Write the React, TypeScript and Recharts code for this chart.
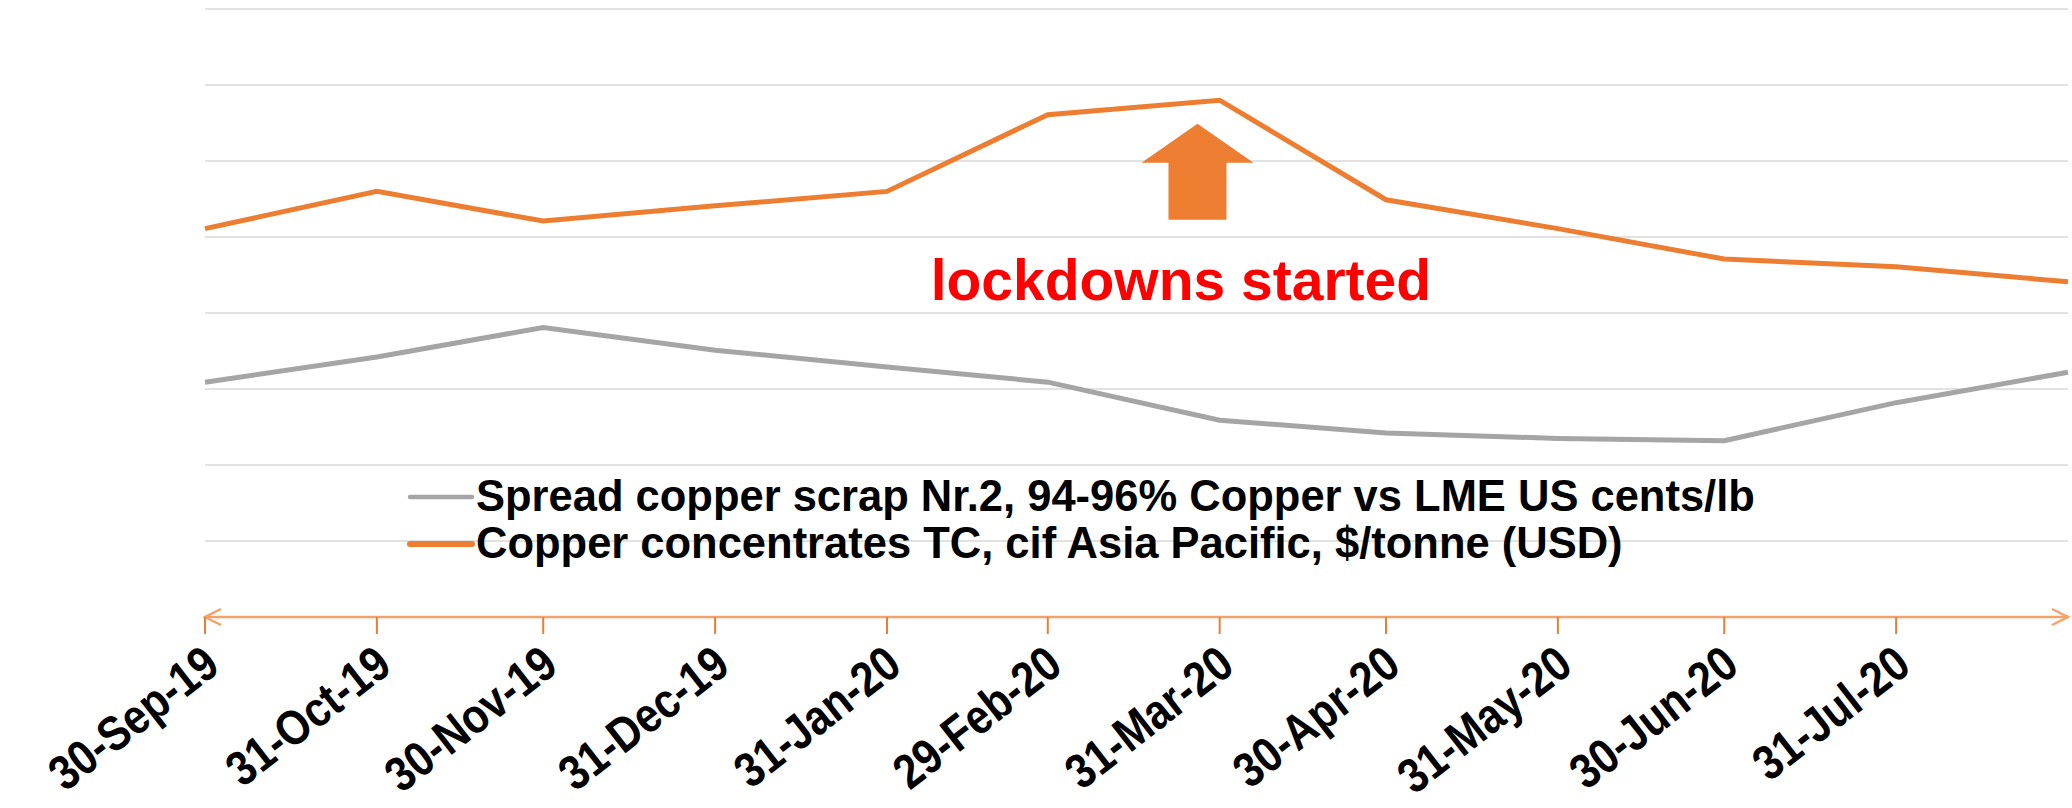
import React from 'react';
import { LineChart, Line, XAxis, YAxis, CartesianGrid, Legend, ReferenceDot } from 'recharts';

const dates = ['2019-09-30', '2019-10-31', '2019-11-30', '2019-12-31', '2020-01-31', '2020-02-29', '2020-03-31', '2020-04-30', '2020-05-31', '2020-06-30', '2020-07-31', '2020-08-31'];
const dateLabels = ['30-Sep-19', '31-Oct-19', '30-Nov-19', '31-Dec-19', '31-Jan-20', '29-Feb-20', '31-Mar-20', '30-Apr-20', '31-May-20', '30-Jun-20', '31-Jul-20', '31-Aug-20'];
const scrapSpread = [30.9, 34.2, 38.1, 35.1, 32.9, 30.9, 25.9, 24.2, 23.5, 23.2, 28.2, 32.2];
const concentratesTC = [51.1, 56.0, 52.1, 54.1, 56.0, 66.1, 68.0, 54.9, 51.1, 47.1, 46.1, 44.1];
const labeledTickCount = 11;
const yTicks = [0, 10, 20, 30, 40, 50, 60, 70, 80];
const seriesNames = ['Spread copper scrap Nr.2, 94-96% Copper vs LME US cents/lb', 'Copper concentrates TC, cif Asia Pacific, $/tonne (USD)'];
const annotationText = 'lockdowns started';
const arrowDate = '2020-03-27';
const arrowTipValue = 64.9;
const textDate = '2020-03-24';
const textValue = 41.7;

const GRAY = '#a5a5a5';
const ORANGE = '#ed7d31';
const AXIS_ORANGE = '#f5a26a';
const FONT = '"Liberation Sans", Arial, sans-serif';

const toTime = (s: string) => Date.parse(s + 'T00:00:00Z');
const data = dates.map((d, i) => ({ t: toTime(d), scrap: scrapSpread[i], tc: concentratesTC[i] }));
const tickValues = dates.slice(0, labeledTickCount).map(toTime);
const labelByTime: Record<number, string> = {};
dates.forEach((d, i) => { labelByTime[toTime(d)] = dateLabels[i]; });

const DateTick = (props: any) => {
  const { x, y, payload } = props;
  return (
    <g transform={`translate(${x + 17},${y + 34})`}>
      <text transform="rotate(-38) scale(0.86,1)" textAnchor="end" fontFamily={FONT} fontWeight={700} fontSize={49} fill="#000">
        {labelByTime[payload.value]}
      </text>
    </g>
  );
};

const ArrowShape = (props: any) => {
  const { cx, cy } = props;
  const d = `M${cx},${cy} L${cx + 56},${cy + 39} L${cx + 29},${cy + 39} L${cx + 29},${cy + 96} L${cx - 29},${cy + 96} L${cx - 29},${cy + 39} L${cx - 56},${cy + 39} Z`;
  return <path d={d} fill={ORANGE} />;
};

const TextShape = (props: any) => {
  const { cx, cy } = props;
  return (
    <text x={cx} y={cy} textAnchor="middle" fontFamily={FONT} fontWeight={700} fontSize={57} fill="#ff0000">
      {annotationText}
    </text>
  );
};

const legendColors = [GRAY, ORANGE];
const legendWidths = [4.5, 6];
const renderLegend = () => (
  <div style={{ fontFamily: FONT, fontWeight: 700, fontSize: 43.5, color: '#000', lineHeight: '47px' }}>
    {seriesNames.map((name, i) => (
      <div key={name} style={{ display: 'flex', alignItems: 'center', whiteSpace: 'nowrap' }}>
        <svg width={70} height={12} style={{ display: 'block' }}>
          <line x1={4} y1={6} x2={66} y2={6} stroke={legendColors[i]} strokeWidth={legendWidths[i]} strokeLinecap="round" />
        </svg>
        <span>{name}</span>
      </div>
    ))}
  </div>
);

export default function App() {
  return (
    <div style={{ width: 2072, height: 808, position: 'relative', background: '#fff' }}>
      <style>{'body{margin:0;background:#fff}'}</style>
      <svg width={0} height={0} style={{ position: 'absolute' }}>
        <defs>
          <marker id="axisArrow" markerUnits="userSpaceOnUse" markerWidth={26} markerHeight={24} refX={19} refY={12} orient="auto-start-reverse">
            <path d="M3,4 L19,12 L3,20" fill="none" stroke={AXIS_ORANGE} strokeWidth={2.5} />
          </marker>
        </defs>
      </svg>
      <LineChart width={2072} height={808} data={data} margin={{ top: 9, right: 4, bottom: 0, left: 205 }}>
        <CartesianGrid vertical={false} stroke="#d9d9d9" strokeWidth={1.5} />
        <YAxis hide domain={[0, 80]} ticks={yTicks} type="number" />
        <XAxis
          dataKey="t"
          type="number"
          domain={[toTime(dates[0]), toTime(dates[dates.length - 1])]}
          ticks={tickValues}
          interval={0}
          height={191}
          tickSize={17}
          axisLine={{ stroke: AXIS_ORANGE, strokeWidth: 2.5, markerStart: 'url(#axisArrow)', markerEnd: 'url(#axisArrow)' }}
          tickLine={{ stroke: ORANGE, strokeWidth: 2 }}
          tick={<DateTick />}
        />
        <Line type="linear" dataKey="scrap" name={seriesNames[0]} stroke={GRAY} strokeWidth={5} dot={false} isAnimationActive={false} />
        <Line type="linear" dataKey="tc" name={seriesNames[1]} stroke={ORANGE} strokeWidth={5} dot={false} isAnimationActive={false} />
        <ReferenceDot x={toTime(arrowDate)} y={arrowTipValue} shape={<ArrowShape />} />
        <ReferenceDot x={toTime(textDate)} y={textValue} shape={<TextShape />} />
        <Legend layout="horizontal" verticalAlign="middle" align="center" content={renderLegend} wrapperStyle={{ position: 'absolute', left: 406, top: 473, width: 'auto', height: 'auto' }} />
      </LineChart>
    </div>
  );
}
